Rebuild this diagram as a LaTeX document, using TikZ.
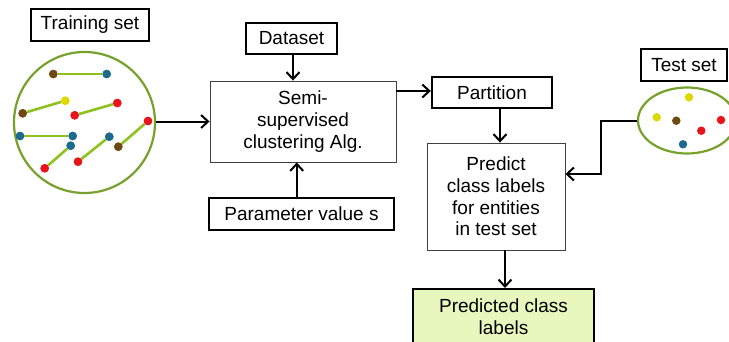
\documentclass[tikz,border=0pt]{standalone}
\usepackage{fontspec}
\setmainfont{Liberation Sans}
\usetikzlibrary{arrows.meta,shapes.geometric}
\definecolor{ringgreen}{HTML}{76A12B}
\definecolor{linkgreen}{HTML}{8DC21F}
\definecolor{dotbrown}{HTML}{6E4A12}
\definecolor{dotblue}{HTML}{1E6A8C}
\definecolor{dotred}{HTML}{E8141C}
\definecolor{dotyellow}{HTML}{DDD800}
\definecolor{resfill}{HTML}{E8F7BE}
\tikzset{
  thickbox/.style={draw=black,line width=2.4pt,minimum width=#1,align=center,inner sep=0pt},
  thinbox/.style={draw=black!75,line width=0.9pt,align=center,inner sep=0pt},
  arr/.style={line width=2pt,-{Straight Barb[length=7pt,width=13pt,line width=2pt]}},
  dotn/.style={circle,fill=#1,inner sep=0pt,minimum size=8.5pt},
  link/.style={linkgreen,line width=2.6pt},
  ring/.style={draw=ringgreen,line width=2.2pt,inner sep=0pt}
}
\begin{document}
\begin{tikzpicture}[x=1pt,y=-1pt,font=\fontsize{19}{21.7}\selectfont]
\useasboundingbox (0,0) rectangle (729,341);
\begin{scope}
\clip (0,0) rectangle (729,341);
% training set
\node[thickbox=118pt,minimum height=32pt] (train) at (90,25) {Training set};
\node[ring,circle,minimum size=141pt] (circ) at (84.5,122.5) {};
\node[dotn=dotbrown] (a1) at (53.3,74) {};
\node[dotn=dotblue] (a2) at (106.7,74) {};
\node[dotn=dotbrown] (b1) at (22.7,113.3) {};
\node[dotn=dotyellow] (b2) at (65.3,100.7) {};
\node[dotn=dotred] (c1) at (74.7,115.3) {};
\node[dotn=dotred] (c2) at (117.3,103) {};
\node[dotn=dotblue] (d1) at (20,136) {};
\node[dotn=dotblue] (d2) at (72.7,136) {};
\node[dotn=dotblue] (e1) at (70.7,145.7) {};
\node[dotn=dotred] (e2) at (44.7,168.3) {};
\node[dotn=dotred] (f1) at (78,161.7) {};
\node[dotn=dotblue] (f2) at (109.3,136.7) {};
\node[dotn=dotbrown] (g1) at (118.3,146.7) {};
\node[dotn=dotred] (g2) at (148,121) {};
\draw[link] (a1) -- (a2);
\draw[link] (b1) -- (b2);
\draw[link] (c1) -- (c2);
\draw[link] (d1) -- (d2);
\draw[link] (e1) -- (e2);
\draw[link] (f1) -- (f2);
\draw[link] (g1) -- (g2);
\foreach \n/\c in {a1/dotbrown,a2/dotblue,b1/dotbrown,b2/dotyellow,c1/dotred,c2/dotred,d1/dotblue,d2/dotblue,e1/dotblue,e2/dotred,f1/dotred,f2/dotblue,g1/dotbrown,g2/dotred}
  \fill[\c] (\n.center) circle (4.25pt);
% central boxes
\node[thickbox=91pt,minimum height=31pt] (data) at (291.5,38.5) {Dataset};
\node[thinbox,minimum width=186pt,minimum height=81pt] (semi) at (303,121.5) {Semi-\\supervised\\clustering Alg.};
\node[thickbox=185pt,minimum height=32pt] (param) at (301.5,214) {Parameter value s};
\node[thickbox=120pt,minimum height=31pt] (part) at (492,92.5) {Partition};
\node[thinbox,minimum width=138pt,minimum height=107pt] (pred) at (496,196.5) {Predict\\class labels\\for entities\\in test set};
\node[thickbox=181pt,minimum height=74pt,fill=resfill,anchor=north] (res) at (503.5,288) {};
\node[align=center,inner sep=0pt] (reslbl) at (503.5,317) {Predicted class\\labels};
% test set
\node[thickbox=86pt,minimum height=32pt] (test) at (684,65) {Test set};
\node[ring,ellipse,minimum width=98pt,minimum height=66pt] (ell) at (687,120.5) {};
\fill[dotyellow] (689,97.3) circle (4.25pt);
\fill[dotyellow] (656.7,117.3) circle (4.25pt);
\fill[dotbrown] (676.3,120.7) circle (4.25pt);
\fill[dotred] (721,120) circle (4.25pt);
\fill[dotred] (701.3,130.7) circle (4.25pt);
\fill[dotblue] (683,144.3) circle (4.25pt);
% connectors
\draw[arr] (circ.east |- 0,121.5) -- (semi.west);
\draw[arr] ([xshift=1.5pt]data.south) -- ([xshift=1.5pt]data.south |- semi.north);
\draw[arr] ([xshift=-4.8pt]param.north) -- ([xshift=-4.8pt]param.north |- semi.south);
\draw[arr] (semi.east |- 0,91) -- (part.west |- 0,91);
\draw[arr] ([xshift=8pt]part.south) -- ([xshift=8pt]part.south |- pred.north);
\draw[arr] ([xshift=9pt]pred.south) -- ([xshift=9pt]pred.south |- res.north);
\coordinate (bend) at (601,174);
\draw[arr] (ell.west) -| (bend) -- (pred.east |- bend);
\end{scope}
\end{tikzpicture}
\end{document}
